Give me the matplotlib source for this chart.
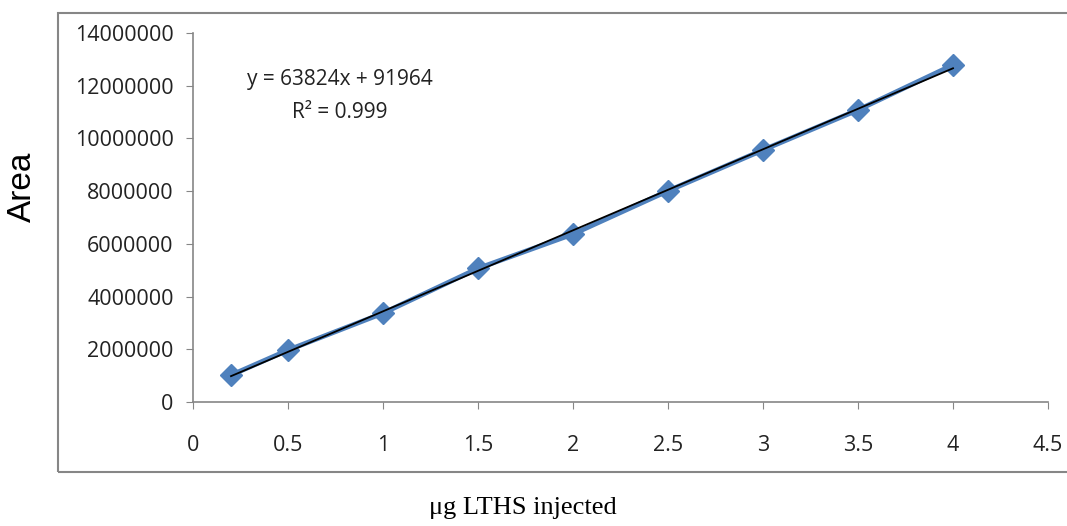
import numpy as np
import matplotlib
matplotlib.use('Agg')
import matplotlib.pyplot as plt
from matplotlib.patches import Rectangle

# calibration data
dose = [0.2, 0.5, 1, 1.5, 2, 2.5, 3, 3.5, 4]
area = [1020000, 1970000, 3370000, 5070000, 6370000, 8010000, 9560000, 11080000, 12790000]
yticks = [0, 2000000, 4000000, 6000000, 8000000, 10000000, 12000000, 14000000]
xticks = [0, 0.5, 1, 1.5, 2, 2.5, 3, 3.5, 4, 4.5]
eq_text = 'y = 63824x + 91964'
r2_text = 'R² = 0.999'

plt.rcParams['font.family'] = ['Open Sans', 'DejaVu Sans']
grey = '#868686'

fig = plt.figure(figsize=(10.67, 5.26), dpi=100)
ax = fig.add_axes([0.1809, 0.2357, 0.8013, 0.7016])

# outer chart frame (right edge runs off the image)
fig.patches.append(Rectangle((0.0544, 0.1036), 1.0, 0.8717, transform=fig.transFigure,
                             fill=False, edgecolor=grey, linewidth=1.5))

ax.plot(dose, area, color='#4F81BD', linewidth=3.5, marker='D', markersize=11, zorder=2)

# linear trendline
m, b = np.polyfit(dose, area, 1)
xs = np.array([dose[0], dose[-1]])
ax.plot(xs, m * xs + b, color='black', linewidth=1.3, zorder=3)

ax.set_xlim(0, 4.5)
ax.set_ylim(0, 14000000)
ax.set_xticks(xticks)
ax.set_xticklabels([f'{t:g}' for t in xticks])
ax.set_yticks(yticks)
ax.set_yticklabels([str(t) for t in yticks])

for s in ['top', 'right']:
    ax.spines[s].set_visible(False)
for s in ['left', 'bottom']:
    ax.spines[s].set_color(grey)
    ax.spines[s].set_linewidth(1.2)
ax.tick_params(axis='both', direction='out', length=5, color=grey, labelsize=15.5, labelcolor='#222222')
ax.tick_params(axis='y', pad=9)
ax.tick_params(axis='x', pad=19)

ax.text(0.172, 0.875, eq_text, transform=ax.transAxes, ha='center', va='center', fontsize=15, color='#222222')
ax.text(0.172, 0.785, r2_text, transform=ax.transAxes, ha='center', va='center', fontsize=15, color='#222222')

fig.text(22 / 1067, 1 - 187 / 526, 'Area', rotation=90, ha='center', va='center',
         fontsize=24, family='Liberation Sans')
fig.text(523 / 1067, 1 - 508 / 526, 'μg LTHS injected', ha='center', va='center',
         fontsize=19, family='Liberation Serif')

fig.savefig('out.png', dpi=100)
